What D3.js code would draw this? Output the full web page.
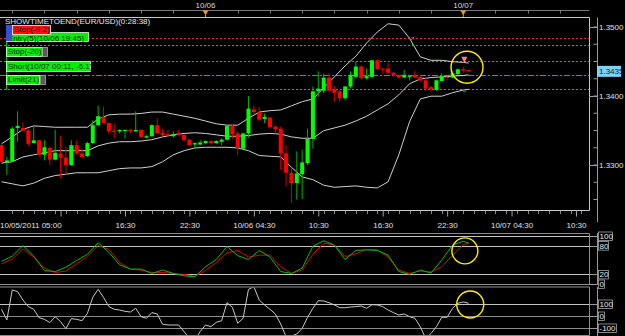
<!DOCTYPE html>
<html>
<head>
<meta charset="utf-8">
<script src="https://cdn.jsdelivr.net/npm/d3@7"></script>
<style>
  body { margin: 0; background: #000; }
  svg { display: block; }
  text { font-family: "Liberation Sans Narrow", "Liberation Sans", Arial, sans-serif; font-size: 8px; }
</style>
</head>
<body>
<svg id="chart" width="625" height="336"></svg>
<script>
// EUR/USD M30, 10/05/2011 05:00 onwards
const opens = [1.3328,1.3303,1.3305,1.3353,1.3353,1.3349,1.3331,1.3335,1.3314,1.3324,
  1.3307,1.3316,1.3310,1.3299,1.3328,1.3316,1.3312,1.3331,1.3357,1.3369,
  1.3360,1.3349,1.3348,1.3349,1.3350,1.3348,1.3350,1.3339,1.3341,1.3357,
  1.3346,1.3344,1.3341,1.3346,1.3343,1.3336,1.3329,1.3329,1.3331,1.3334,
  1.3331,1.3333,1.3336,1.3356,1.3345,1.3323,1.3345,1.3380,1.3376,1.3366,
  1.3368,1.3355,1.3352,1.3316,1.3288,1.3273,1.3286,1.3302,1.3337,1.3406,
  1.3407,1.3426,1.3409,1.3406,1.3396,1.3413,1.3427,1.3442,1.3425,1.3427,
  1.3451,1.3439,1.3439,1.3433,1.3430,1.3426,1.3427,1.3430,1.3427,1.3422,
  1.3412,1.3408,1.3421,1.3427,1.3426,1.3431,1.3438,1.3437];
const highs = [1.3331,1.3311,1.3355,1.3377,1.3361,1.3352,1.3355,1.3336,1.3335,1.3325,
  1.3350,1.3341,1.3326,1.3335,1.3335,1.3323,1.3333,1.3364,1.3385,1.3384,
  1.3361,1.3359,1.3351,1.3351,1.3352,1.3377,1.3351,1.3343,1.3358,1.3367,
  1.3352,1.3350,1.3348,1.3350,1.3343,1.3337,1.3332,1.3335,1.3335,1.3335,
  1.3335,1.3338,1.3357,1.3359,1.3348,1.3346,1.3399,1.3385,1.3383,1.3374,
  1.3369,1.3357,1.3355,1.3328,1.3294,1.3319,1.3321,1.3352,1.3413,1.3435,
  1.3432,1.3432,1.3414,1.3408,1.3414,1.3435,1.3449,1.3444,1.3439,1.3452,
  1.3452,1.3440,1.3447,1.3434,1.3430,1.3437,1.3430,1.3436,1.3428,1.3425,
  1.3414,1.3423,1.3432,1.3428,1.3435,1.3439,1.3442,1.3437];
const lows = [1.3302,1.3285,1.3304,1.3333,1.3348,1.3327,1.3331,1.3311,1.3306,1.3299,
  1.3306,1.3280,1.3285,1.3298,1.3314,1.3309,1.3311,1.3330,1.3356,1.3359,
  1.3345,1.3338,1.3345,1.3338,1.3345,1.3347,1.3339,1.3338,1.3340,1.3344,
  1.3341,1.3340,1.3339,1.3341,1.3334,1.3327,1.3323,1.3328,1.3330,1.3328,
  1.3330,1.3328,1.3335,1.3337,1.3314,1.3322,1.3339,1.3373,1.3363,1.3360,
  1.3352,1.3345,1.3292,1.3268,1.3244,1.3249,1.3250,1.3299,1.3323,1.3398,
  1.3403,1.3406,1.3391,1.3391,1.3393,1.3410,1.3425,1.3423,1.3423,1.3426,
  1.3437,1.3432,1.3432,1.3428,1.3425,1.3425,1.3422,1.3425,1.3420,1.3406,
  1.3406,1.3407,1.3420,1.3422,1.3425,1.3430,1.3433,1.3435];
const closes = [1.3304,1.3306,1.3352,1.3356,1.3349,1.3330,1.3335,1.3314,1.3325,1.3307,
  1.3317,1.3310,1.3299,1.3328,1.3316,1.3311,1.3331,1.3357,1.3370,1.3360,
  1.3348,1.3347,1.3350,1.3350,1.3348,1.3350,1.3340,1.3341,1.3357,1.3345,
  1.3343,1.3342,1.3344,1.3343,1.3335,1.3328,1.3331,1.3332,1.3334,1.3331,
  1.3334,1.3336,1.3356,1.3344,1.3324,1.3345,1.3381,1.3376,1.3365,1.3369,
  1.3354,1.3351,1.3316,1.3288,1.3273,1.3287,1.3303,1.3337,1.3406,1.3410,
  1.3426,1.3407,1.3404,1.3396,1.3413,1.3430,1.3442,1.3425,1.3428,1.3451,
  1.3438,1.3438,1.3433,1.3429,1.3426,1.3430,1.3428,1.3426,1.3422,1.3410,
  1.3409,1.3422,1.3428,1.3426,1.3432,1.3438,1.3436,1.3435];

// Bollinger bands, read every second bar plus the last bar
const bandBars = [0,2,4,6,8,10,12,14,16,18,20,22,24,26,28,30,32,34,36,38,40,42,44,
  46,48,50,52,54,56,58,60,62,64,66,68,70,72,74,76,78,80,82,84,86,87];
const bandUpper = [1.3330,1.3340,1.3351,1.3356,1.3355,1.3354,1.3354,1.3354,1.3354,1.3366,
  1.3372,1.3373,1.3373,1.3374,1.3376,1.3376,1.3373,1.3370,1.3367,1.3363,
  1.3359,1.3357,1.3357,1.3367,1.3376,1.3378,1.3379,1.3385,1.3391,1.3395,
  1.3411,1.3427,1.3443,1.3457,1.3476,1.3492,1.3504,1.3502,1.3483,1.3456,
  1.3451,1.3451,1.3449,1.3448,1.3447];
const bandMiddle = [1.3302,1.3304,1.3311,1.3314,1.3317,1.3320,1.3320,1.3320,1.3320,1.3327,
  1.3331,1.3333,1.3333,1.3334,1.3336,1.3340,1.3343,1.3345,1.3346,1.3345,
  1.3343,1.3341,1.3341,1.3342,1.3344,1.3345,1.3344,1.3340,1.3338,1.3338,
  1.3349,1.3353,1.3357,1.3363,1.3370,1.3379,1.3388,1.3401,1.3417,1.3424,
  1.3426,1.3427,1.3428,1.3429,1.3430];
const bandLower = [1.3275,1.3272,1.3269,1.3273,1.3280,1.3284,1.3286,1.3288,1.3288,1.3288,
  1.3291,1.3294,1.3295,1.3295,1.3297,1.3304,1.3314,1.3320,1.3324,1.3325,
  1.3325,1.3325,1.3324,1.3320,1.3313,1.3312,1.3311,1.3296,1.3282,1.3278,
  1.3270,1.3267,1.3268,1.3269,1.3267,1.3266,1.3275,1.3314,1.3362,1.3395,
  1.3399,1.3399,1.3404,1.3408,1.3409];

// Stochastic (same bars as the bands)
const stochMain = [47,58,80,58,28,26,35,49,62,86,66,40,31,31,22,29,22,17,15,36,
  51,78,59,51,70,56,26,22,33,79,90,81,51,70,71,70,60,26,20,29,23,50,81,89,85];
const stochSignal = [42,52,73,56,33,24,27,42,58,80,72,45,31,29,24,24,22,20,16,28,
  45,65,70,56,60,60,36,22,29,62,85,81,57,63,72,71,56,29,22,27,25,36,60,82,85];

// CCI, one value per bar
const cci = [56,-33,217,203,133,78,56,-14,-28,-55,-6,-47,-106,-22,-28,-39,22,156,222,156,
  78,56,50,39,33,64,-6,-19,28,17,-69,-75,-75,-75,-130,-186,-200,-130,-75,-89,
  -53,-39,111,72,-61,-19,222,244,133,92,56,17,-67,-172,-167,-150,-103,-11,64,128,
  125,111,92,69,69,75,78,83,64,94,92,78,50,28,8,17,-6,-19,-89,-186,
  -145,-89,-11,-11,64,106,117,106];

const priceTicks = [1.3300, 1.3400, 1.3500];
const timeTicks = ["2011-10-05 16:30","2011-10-05 22:30","2011-10-06 04:30","2011-10-06 10:30",
  "2011-10-06 16:30","2011-10-06 22:30","2011-10-07 04:30","2011-10-07 10:30"];
const timeLabels = ["16:30","22:30","10/06 04:30","10:30","16:30","22:30","10/07 04:30","10:30"];
const dayMarks = ["2011-10-06 00:00","2011-10-07 00:00"];
const dayLabels = ["10/06","10/07"];
const tradeLevels = [1.3483, 1.3473, 1.3450, 1.3429, 1.3409];
const tradeColors = ["#ff2020","#00d000","#00d000","#00d000","#00d000"];
const stochLevels = [100, 80, 20, 0];
const cciLevels = [100, 0, -100];
const lastPrice = 1.3435;

const parseTime = d3.timeParse("%Y-%m-%d %H:%M");
const barStart = parseTime("2011-10-05 05:00");
const barTime = i => d3.timeMinute.offset(barStart, 30 * i);

const svg = d3.select("#chart");
const W = 625, plotRight = 589, axisX = 597;

const x = d3.scaleTime()
  .domain([barStart, parseTime("2011-10-07 10:30")])
  .range([1.5, 576]);
const xi = i => x(barTime(i));

const y = d3.scaleLinear().domain([1.33, 1.35]).range([164.5, 26.5]);
const yStoch = d3.scaleLinear().domain([0, 100]).range([284, 236]);
const yCci = d3.scaleLinear().domain([-100, 100]).range([328, 304]);

svg.append("rect").attr("width", W).attr("height", 336).attr("fill", "#000");

const defs = svg.append("defs");
defs.append("clipPath").attr("id", "clipMain")
  .append("rect").attr("x", 0).attr("y", 18).attr("width", plotRight).attr("height", 191);
defs.append("clipPath").attr("id", "clipStoch")
  .append("rect").attr("x", 0).attr("y", 234).attr("width", plotRight).attr("height", 50);
defs.append("clipPath").attr("id", "clipCci")
  .append("rect").attr("x", 0).attr("y", 287.5).attr("width", plotRight).attr("height", 47.5);

// top day strip
svg.append("line").attr("x1", 0).attr("x2", plotRight).attr("y1", 10.5).attr("y2", 10.5)
  .attr("stroke", "#7a7a7a");
const hourTicks = d3.timeHour.every(3).range(parseTime("2011-10-05 06:00"), parseTime("2011-10-07 12:00"));
svg.append("g").selectAll("line").data(hourTicks).join("line")
  .attr("x1", d => Math.round(x(d)) + 0.5).attr("x2", d => Math.round(x(d)) + 0.5)
  .attr("y1", 10.5).attr("y2", 13.5).attr("stroke", "#7a7a7a");
dayMarks.forEach((d, k) => {
  const px = x(parseTime(d));
  svg.append("text").attr("x", px).attr("y", 7.5).attr("text-anchor", "middle")
    .attr("fill", "#d8d8d8").text(dayLabels[k]);
  svg.append("line").attr("x1", px).attr("x2", px).attr("y1", 14).attr("y2", 17.5)
    .attr("stroke", "#a0a0a0");
  svg.append("path").attr("d", `M${px - 3},10.5L${px + 3},10.5L${px},15Z`).attr("fill", "#f39a1e");
});

// main panel frame
svg.append("path").attr("d", `M0,17.5H${plotRight + 0.5}V210.5H0`)
  .attr("fill", "none").attr("stroke", "#c8c8c8");

// right price axis
const rightAxis = d3.axisLeft(y).tickValues(d3.range(1.3250, 1.3512, 0.0025)).tickSize(4).tickFormat("");
svg.append("g").attr("transform", `translate(${axisX + 0.5},0)`).call(rightAxis)
  .call(g => g.select(".domain").attr("d", "M0,17.5V222").attr("stroke", "#9a9a9a"))
  .call(g => g.selectAll(".tick line").attr("stroke", "#9a9a9a"));
priceTicks.forEach(p => {
  svg.append("line").attr("x1", plotRight).attr("x2", axisX).attr("y1", Math.round(y(p)) + 0.5)
    .attr("y2", Math.round(y(p)) + 0.5).attr("stroke", "#9a9a9a");
  svg.append("text").attr("x", 599).attr("y", y(p) + 3).attr("fill", "#e0e0e0").text(p.toFixed(4));
});

// bottom time axis
const minorTimes = d3.timeHour.every(1).range(parseTime("2011-10-05 05:30"), parseTime("2011-10-07 11:30"));
svg.append("g").selectAll("line").data(minorTimes).join("line")
  .attr("x1", d => Math.round(x(d)) + 0.5).attr("x2", d => Math.round(x(d)) + 0.5)
  .attr("y1", 211).attr("y2", 214).attr("stroke", "#8a8a8a");
const bottomAxis = d3.axisBottom(x).tickValues(timeTicks.map(parseTime))
  .tickSize(6).tickFormat((d, k) => timeLabels[k]);
svg.append("g").attr("transform", "translate(0,210.5)").call(bottomAxis)
  .call(g => g.select(".domain").remove())
  .call(g => g.selectAll(".tick line").attr("stroke", "#a0a0a0"))
  .call(g => g.selectAll(".tick text").attr("fill", "#e0e0e0").attr("font-size", 8)
    .attr("font-family", null).attr("dy", null).attr("y", 17));
svg.append("line").attr("x1", x(parseTime("2011-10-05 10:30")) + 0.5).attr("x2", x(parseTime("2011-10-05 10:30")) + 0.5)
  .attr("y1", 210.5).attr("y2", 216.5).attr("stroke", "#a0a0a0");
svg.append("text").attr("x", 0).attr("y", 227.5).attr("fill", "#e0e0e0").text("10/05/2011 05:00");

// trade levels
const levelDash = ["2,2", "2,2", "2,2", "6,2,2,2", "2,2"];
svg.append("g").selectAll("line").data(tradeLevels).join("line")
  .attr("x1", 0).attr("x2", plotRight)
  .attr("y1", d => Math.round(y(d)) + 0.5).attr("y2", d => Math.round(y(d)) + 0.5)
  .attr("stroke", (d, k) => tradeColors[k])
  .attr("stroke-dasharray", (d, k) => levelDash[k]);

// Bollinger bands
const band = vals => d3.line().x((d, k) => xi(bandBars[k])).y(d => y(d))(vals);
const gMain = svg.append("g").attr("clip-path", "url(#clipMain)");
[bandUpper, bandMiddle, bandLower].forEach(b => {
  gMain.append("path").attr("d", band(b)).attr("fill", "none")
    .attr("stroke", "#d0d0d0").attr("stroke-width", 1);
});

// candles
const gCandles = gMain.append("g");
opens.forEach((o, i) => {
  const c = closes[i], up = c >= o;
  const cx = xi(i);
  gCandles.append("line").attr("x1", cx).attr("x2", cx)
    .attr("y1", y(highs[i])).attr("y2", y(lows[i]))
    .attr("stroke", up ? "#00b400" : "#d00000").attr("stroke-width", 1);
  const top = y(Math.max(o, c)), bot = y(Math.min(o, c));
  gCandles.append("rect").attr("x", cx - 2).attr("y", top)
    .attr("width", 4).attr("height", Math.max(1, bot - top))
    .attr("fill", up ? "#00ff00" : "#ff0000");
});

// trade arrows
const markX = xi(76.6);
svg.append("path").attr("d", `M${markX - 1.5},${y(1.3483) - 1.5}l3,3m0,-3l-3,3`).attr("stroke", "#ff3030");
svg.append("rect").attr("x", markX - 1).attr("y", y(1.3473) - 1).attr("width", 2).attr("height", 2).attr("fill", "#00d000");
const sellX = xi(86.2);
svg.append("path").attr("d", `M${sellX - 3},${y(1.3456)}h6l-3,${y(1.3447) - y(1.3456)}Z`).attr("fill", "#ff8070");
svg.append("circle").attr("cx", sellX).attr("cy", y(1.3407)).attr("r", 1.2).attr("fill", "none").attr("stroke", "#00c000");

// last price tag
svg.append("rect").attr("x", 597).attr("y", y(lastPrice) - 5.5).attr("width", 24).attr("height", 11).attr("fill", "#7fd2f5");
svg.append("text").attr("x", 599).attr("y", y(lastPrice) + 3).attr("fill", "#0a1a30").text(lastPrice.toFixed(4));

// header and order labels
svg.append("text").attr("x", 5).attr("y", 24).attr("fill", "#e8e8e8").text("SHOWTIMETOEND(EUR/USD)(0:28:38)");
const tag = (px, py, w, h, label, fill, base) => {
  svg.append("rect").attr("x", px + 0.5).attr("y", py + 0.5).attr("width", w).attr("height", h)
    .attr("fill", fill).attr("stroke", "#d8ffd8").attr("stroke-width", 0.8);
  svg.append("text").attr("x", px + 2).attr("y", base || py + h - 2).attr("fill", "#101010").text(label);
};
const grayBox = (px, py, h) => svg.append("rect").attr("x", px + 0.5).attr("y", py + 0.5)
  .attr("width", 5).attr("height", h).attr("fill", "#5a5a5a").attr("stroke", "#a8a8a8").attr("stroke-width", 0.8);
svg.append("line").attr("x1", 6.5).attr("x2", 6.5).attr("y1", 41).attr("y2", 90).attr("stroke", "#00c000");
tag(6, 32, 82, 9, "Entry(5)(10/06 19:45)", "#00f000", 40.5);
svg.append("rect").attr("x", 6).attr("y", 25).attr("width", 6).attr("height", 16).attr("fill", "#3a4fd8");
tag(12, 25, 38, 9, "Stop(-9.2)", "#ff1010", 31.8);
tag(6, 47, 36, 9, "Stop(-20)", "#00f000"); grayBox(42, 47, 9);
tag(6, 61, 84, 10, "Short(10/07 00:11, -6.1)", "#00f000");
tag(6, 75, 33, 9, "Limit(21)", "#00f000"); grayBox(40, 75, 9);

// stochastic panel
svg.append("path").attr("d", `M0,233.5H${plotRight + 0.5}V284.5H0`).attr("fill", "none").attr("stroke", "#8c8c8c");
svg.append("g").selectAll("line").data(stochLevels.slice(0, 3)).join("line")
  .attr("x1", 0).attr("x2", plotRight).attr("y1", d => Math.round(yStoch(d)) + 0.5).attr("y2", d => Math.round(yStoch(d)) + 0.5)
  .attr("stroke", "#c4c4c4");
const gStoch = svg.append("g").attr("clip-path", "url(#clipStoch)");
const stochLine = d3.line().x((d, k) => xi(bandBars[k])).y(d => yStoch(d));
gStoch.append("path").attr("d", stochLine(stochSignal)).attr("fill", "none").attr("stroke", "#e00000");
gStoch.append("path").attr("d", stochLine(stochMain)).attr("fill", "none").attr("stroke", "#00c000");

// CCI panel
svg.append("path").attr("d", `M0,287H${plotRight + 0.5}V335.5H0`).attr("fill", "none").attr("stroke", "#8c8c8c");
svg.append("g").selectAll("line").data(cciLevels).join("line")
  .attr("x1", 0).attr("x2", plotRight).attr("y1", d => Math.round(yCci(d)) + 0.5).attr("y2", d => Math.round(yCci(d)) + 0.5)
  .attr("stroke", d => d === 100 ? "#c4c4c4" : "#8c8c8c");
const gCci = svg.append("g").attr("clip-path", "url(#clipCci)");
gCci.append("path").attr("d", d3.line().x((d, i) => xi(i)).y(d => yCci(d))(cci))
  .attr("fill", "none").attr("stroke", "#c8c8c8");

// subpanel scales
const sideLabel = (py, label) => {
  const w = label.length * 4 + 2;
  svg.append("line").attr("x1", plotRight).attr("x2", axisX).attr("y1", Math.round(py) + 0.5).attr("y2", Math.round(py) + 0.5).attr("stroke", "#9a9a9a");
  svg.append("rect").attr("x", 598.5).attr("y", py - 4).attr("width", w).attr("height", 8.5)
    .attr("fill", "#000").attr("stroke", "#bdbdbd").attr("stroke-width", 0.7);
  svg.append("text").attr("x", 599.5).attr("y", py + 3).attr("fill", "#eaeaea").text(label);
};
svg.append("line").attr("x1", axisX + 0.5).attr("x2", axisX + 0.5).attr("y1", 233).attr("y2", 285).attr("stroke", "#9a9a9a");
svg.append("line").attr("x1", axisX + 0.5).attr("x2", axisX + 0.5).attr("y1", 287).attr("y2", 336).attr("stroke", "#9a9a9a");
stochLevels.forEach(v => sideLabel(yStoch(v), String(v)));
cciLevels.forEach(v => sideLabel(yCci(v), String(v)));

// highlight circles
const rings = [[86.7, y(1.3441), 16], [86.3, yStoch(69), 13], [87.3, yCci(96), 13.5]];
svg.append("g").selectAll("circle").data(rings).join("circle")
  .attr("cx", d => xi(d[0])).attr("cy", d => d[1]).attr("r", d => d[2])
  .attr("fill", "none").attr("stroke", "#ffee00").attr("stroke-width", 1.4);
</script>
</body>
</html>
